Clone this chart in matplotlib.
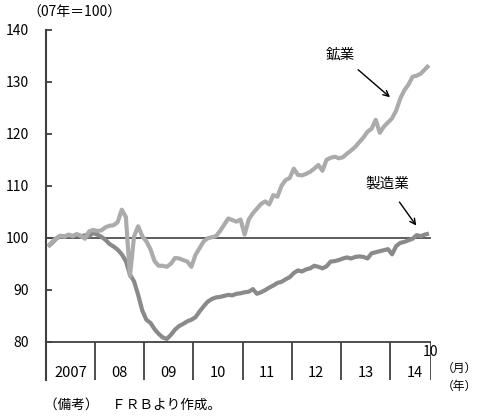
import numpy as np
import matplotlib.pyplot as plt

plt.rcParams['font.family'] = ['Noto Sans CJK JP', 'DejaVu Sans']

# monthly index, 2007=100, Jan 2007 .. Oct 2014
manufacturing = [98.3, 99.0, 99.8, 100.3, 100.2, 100.5, 100.3, 100.6, 100.2, 100.5, 100.3, 100.9,
                 100.6, 100.2, 99.6, 98.8, 98.3, 97.7, 96.8, 95.5, 92.9, 91.6, 89.0, 86.0,
                 84.2, 83.6, 82.4, 81.5, 80.8, 80.5, 81.3, 82.3, 83.0, 83.4, 83.9, 84.2,
                 84.7, 85.8, 86.8, 87.7, 88.2, 88.5, 88.6, 88.8, 89.0, 88.9, 89.2, 89.3,
                 89.5, 89.6, 90.1, 89.2, 89.5, 89.9, 90.4, 90.8, 91.3, 91.5, 92.0, 92.4,
                 93.2, 93.7, 93.5, 93.9, 94.1, 94.6, 94.4, 94.1, 94.5, 95.4, 95.5, 95.7,
                 96.0, 96.2, 96.0, 96.3, 96.4, 96.3, 96.0, 97.0, 97.2, 97.4, 97.6, 97.8,
                 96.8, 98.4, 99.0, 99.2, 99.5, 99.8, 100.5, 100.3, 100.6, 100.8]
mining = [98.3, 99.2, 99.9, 100.4, 100.2, 100.6, 100.3, 100.7, 100.4, 99.8, 101.2, 101.5,
          101.3, 101.4, 102.0, 102.3, 102.4, 103.0, 105.4, 104.0, 92.6, 100.3, 102.2, 100.3,
          99.3, 97.8, 95.5, 94.6, 94.6, 94.4, 95.0, 96.1, 96.0, 95.7, 95.4, 94.4,
          96.7, 98.0, 99.3, 99.9, 100.1, 100.3, 101.3, 102.5, 103.7, 103.4, 103.1, 103.5,
          100.6, 103.5, 104.7, 105.6, 106.5, 107.0, 106.4, 108.2, 107.9, 110.0, 111.1, 111.5,
          113.3, 112.1, 112.0, 112.3, 112.7, 113.3, 114.0, 112.9, 115.0, 115.4, 115.6, 115.3,
          115.5, 116.2, 116.8, 117.5, 118.4, 119.3, 120.4, 121.0, 122.7, 120.2, 121.4, 122.2,
          123.0, 124.5, 126.8, 128.4, 129.5, 131.0, 131.2, 131.6, 132.4, 133.2]
years = ['2007', '08', '09', '10', '11', '12', '13', '14']
yticks = [80, 90, 100, 110, 120, 130, 140]

n = len(manufacturing)
x = np.arange(n) + 0.5
ybot = 72.6
axc = '#404040'

fig = plt.figure(figsize=(4.79, 4.18), dpi=100)
ax = fig.add_axes([46/479, 1-380/418, 385/479, 350/418])
ax.set_xlim(0, 94)
ax.set_ylim(ybot, 140)

ax.axhline(100, color='#303030', lw=1.1, zorder=1)
ax.plot(x, manufacturing, color='#8a8a8a', lw=3, zorder=2, solid_capstyle='butt')
ax.plot(x, mining, color='#ababab', lw=3, zorder=3, solid_capstyle='butt')

# bottom frame and year separators
ax.axhline(80, color=axc, lw=1.3, zorder=4)
ax.vlines(list(range(12, 96, 12)) + [94], ybot, 80, color=axc, lw=1.3)
for k, yl in enumerate(years):
    ax.text(6 + 12*k, 73.9, yl, ha='center', va='center', fontsize=10.5)
ax.text(94, 78.0, '10', ha='center', va='center', fontsize=10)
ax.text(101.0, 74.9, '（月）', ha='center', va='center', fontsize=8.5, clip_on=False)
ax.text(101.0, 71.4, '（年）', ha='center', va='center', fontsize=8.5, clip_on=False)

for s in ['top', 'right', 'bottom']:
    ax.spines[s].set_visible(False)
ax.spines['left'].set_color(axc)
ax.spines['left'].set_linewidth(1.5)
ax.set_xticks([])
ax.set_yticks(yticks)
ax.tick_params(axis='y', direction='in', length=4, width=1.3, color=axc,
               pad=12, labelsize=10)

# annotations
ax.text(71.9, 135.2, '鉱業', ha='center', va='center', fontsize=10.5)
ax.annotate('', xy=(84.5, 126.7), xytext=(75.7, 132.7),
            arrowprops=dict(arrowstyle='->', color='black', lw=1))
ax.text(83.3, 110.4, '製造業', ha='center', va='center', fontsize=10.5)
ax.annotate('', xy=(90.8, 101.9), xytext=(85.9, 107.3),
            arrowprops=dict(arrowstyle='->', color='black', lw=1))

fig.text(74/479, 1-12.5/418, '（07年＝100）', ha='center', va='center', fontsize=10)
fig.text(44/479, 1-405/418, '（備考）　ＦＲＢより作成。', ha='left', va='center', fontsize=9.8)

fig.savefig('out.png', dpi=100)
